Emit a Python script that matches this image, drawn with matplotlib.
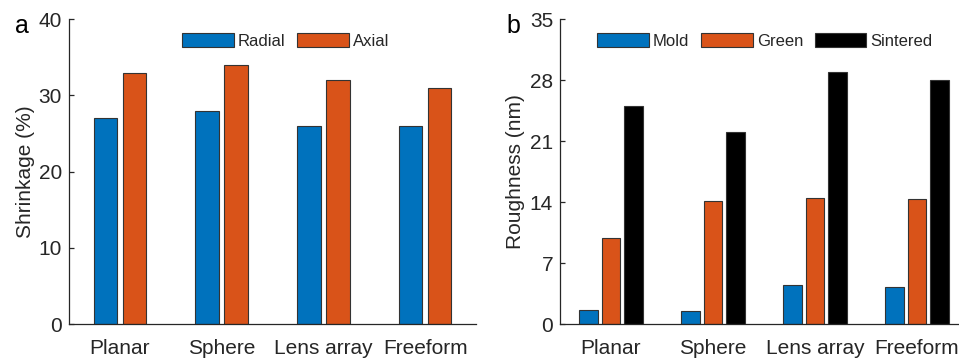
import matplotlib
matplotlib.use("Agg")
import matplotlib.pyplot as plt
import numpy as np

plt.rcParams['font.family'] = ['Liberation Sans', 'DejaVu Sans']

categories = ["Planar", "Sphere", "Lens array", "Freeform"]

# Panel a: shrinkage (%)
shrink_series = ["Radial", "Axial"]
radial = [27, 28, 26, 26]
axial = [33, 34, 32, 31]

# Panel b: roughness (nm)
rough_series = ["Mold", "Green", "Sintered"]
mold = [1.6, 1.5, 4.5, 4.2]
green = [9.9, 14.1, 14.5, 14.4]
sintered = [25, 22, 29, 28]

blue = "#0072BD"
orange = "#D95319"
black = "#000000"
edge = "#333333"
txt = "#262626"

W, H = 959, 360
fig = plt.figure(figsize=(W / 100, H / 100), dpi=100)

ax1 = fig.add_axes([69 / W, 36 / H, 407 / W, 304.7 / H])
ax2 = fig.add_axes([560 / W, 36 / H, 408 / W, 304.7 / H])

x = np.arange(1, len(categories) + 1)

# panel a
w1 = 0.23
off1 = [-0.143, 0.143]
for vals, c, lab, o in zip([radial, axial], [blue, orange], shrink_series, off1):
    ax1.bar(x + o, vals, width=w1, color=c, edgecolor=edge, linewidth=0.8, label=lab)
ax1.set_ylim(0, 40)
ax1.set_yticks([0, 10, 20, 30, 40])
ax1.set_ylabel("Shrinkage (%)", fontsize=15, color=txt)
ax1.yaxis.set_label_coords(-0.083, 0.5)

# panel b
w2 = 0.18
off2 = [-0.22, 0.0, 0.22]
for vals, c, lab, o in zip([mold, green, sintered], [blue, orange, black], rough_series, off2):
    ax2.bar(x + o, vals, width=w2, color=c, edgecolor=edge, linewidth=0.8, label=lab)
ax2.set_ylim(0, 35)
ax2.set_yticks([0, 7, 14, 21, 28, 35])
ax2.set_ylabel("Roughness (nm)", fontsize=15, color=txt)
ax2.yaxis.set_label_coords(-0.086, 0.5)

for ax in (ax1, ax2):
    ax.set_xlim(0.5, 4.5)
    ax.set_xticks(x)
    ax.set_xticklabels(categories)
    ax.spines['top'].set_visible(False)
    ax.spines['right'].set_visible(False)
    for s in ('left', 'bottom'):
        ax.spines[s].set_color(txt)
        ax.spines[s].set_linewidth(0.9)
    ax.tick_params(axis='y', direction='in', length=3.5, width=0.9, colors=txt,
                   labelsize=15, pad=5)
    ax.tick_params(axis='x', length=0, labelsize=15, colors=txt, pad=11)

leg_kw = dict(frameon=False, ncol=3, fontsize=12, handlelength=3.1, handleheight=0.92,
              handletextpad=0.25, columnspacing=0.7, borderpad=0, borderaxespad=0,
              labelcolor=txt)
ax1.legend(loc='center', bbox_to_anchor=(0.532, 0.929), **leg_kw)
ax2.legend(loc='center', bbox_to_anchor=(0.502, 0.929), **leg_kw)

fig.text(15 / W, 1 - 33 / H, "a", fontsize=18, color="black", ha='left', va='baseline')
fig.text(506 / W, 1 - 33 / H, "b", fontsize=18, color="black", ha='left', va='baseline')

fig.savefig("out.png", dpi=100)
